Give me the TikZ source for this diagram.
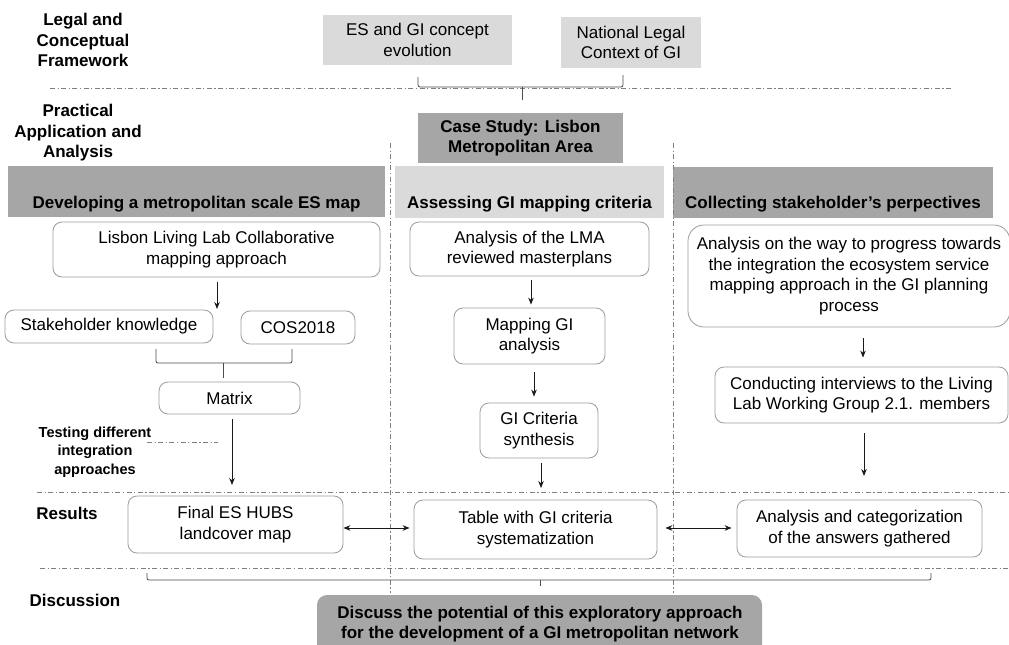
\documentclass[tikz,border=0pt]{standalone}
\usepackage{fontspec}
\setmainfont{Liberation Sans}
\usetikzlibrary{arrows.meta,calc}
\definecolor{dg}{HTML}{A6A6A6}
\definecolor{lg}{HTML}{DADADA}
\definecolor{bd}{HTML}{9C9C9C}
\definecolor{ln}{HTML}{7F7F7F}
\begin{document}
\begin{tikzpicture}[x=1pt,y=-1pt,
 txt/.style={font=\fontsize{17}{20.5}\selectfont, align=center},
 btxt/.style={font=\fontsize{17}{20.5}\selectfont\bfseries, align=center},
 stxt/.style={font=\fontsize{14.5}{18.5}\selectfont\bfseries, align=center},
 rbox/.style={txt, draw=bd, line width=0.8pt, rounded corners=9pt, fill=white, inner sep=0pt},
 gbox/.style={txt, fill=lg, inner sep=0pt},
 dbox/.style={btxt, fill=dg, inner sep=0pt},
 bar/.style={inner sep=0pt},
 dd/.style={draw=ln, line width=0.8pt, dash pattern=on 5pt off 2.5pt on 1.2pt off 2.5pt},
 arr/.style={draw=black!90, line width=0.9pt, -{Stealth[length=7pt,width=5.5pt]}},
 darr/.style={draw=black!90, line width=0.9pt, {Stealth[length=7pt,width=5.5pt]}-{Stealth[length=7pt,width=5.5pt]}},
 brace/.style={draw=black!70, line width=0.8pt, rounded corners=2pt}
]
\useasboundingbox (0,0) rectangle (1009,645);
\fill[white] (0,0) rectangle (1009,645);
\clip (0,0) rectangle (1009,645);

% row labels
\node[btxt] (lab1) at (83,40) {Legal and\\Conceptual\\Framework};
\node[btxt] (lab2) at (78,133) {Practical\\Application and\\Analysis};
\node[btxt] (lab3) at (67,513) {Results};
\node[btxt] (lab4) at (75,600) {Discussion};

% top boxes
\node[gbox, minimum width=189pt, minimum height=50pt] (es) at (417.5,40) {ES and GI concept\\evolution};
\node[gbox, minimum width=140pt, minimum height=51pt] (nat) at (631,42.5) {National Legal\\Context of GI};

% separators
\draw[dd] (50,88) -- (953,88);
\draw[dd] (37,492) -- (1009,492);
\draw[dd] (40,568) -- (1009,568);

% top brace
\coordinate (b1l) at (418,77);
\coordinate (b1r) at (623,75);
\coordinate (b1m) at (522,100);
\draw[brace] (b1l) -- (418,87) -- (623,87) -- (b1r);
\draw[brace] (522,87) -- (b1m);

\node[dbox, minimum width=205pt, minimum height=50pt] (case) at (520.5,138) {Case Study: Lisbon\\Metropolitan Area};

% header bars
\node[bar, fill=dg, minimum width=377pt, minimum height=51pt] (h1) at (196.5,191.5) {};
\node[bar, fill=lg, minimum width=269pt, minimum height=52pt] (h2) at (529.5,192) {};
\node[bar, fill=dg, minimum width=320pt, minimum height=51pt] (h3) at (833,192.5) {};
\node[btxt] (h1t) at (196.5,204) {Developing a metropolitan scale ES map};
\node[btxt] (h2t) at (529.5,204) {Assessing GI mapping criteria};
\node[btxt] (h3t) at (833,204) {Collecting stakeholder’s perpectives};

% vertical separators
\draw[dd] (390,143) -- (390,593);
\draw[dd] (673,143) -- (673,593);

% left column
\node[rbox, minimum width=327pt, minimum height=55pt] (lla) at (216.5,249.5) {Lisbon Living Lab Collaborative\\mapping approach};
\node[rbox, minimum width=208pt, minimum height=33pt] (sk) at (109,326.5) {Stakeholder knowledge};
\node[rbox, minimum width=114pt, minimum height=33pt] (cos) at (298,327.5) {COS2018};
\node[rbox, minimum width=141pt, minimum height=32pt] (mat) at (229.5,398) {Matrix};
\coordinate (a1e) at (217,309);
\draw[arr] (217,282) -- (a1e);
\coordinate (b2m) at (223,378);
\draw[brace] (156,349) -- (156,363) -- (292,363) -- (292,349);
\draw[brace] (223,363) -- (b2m);
\coordinate (a2e) at (232,485);
\draw[arr] (232,419) -- (a2e);
\node[stxt] (test) at (95,452) {Testing different\\integration\\approaches};
\draw[dd] (147,442) -- (218,442);

% middle column
\node[rbox, minimum width=239pt, minimum height=54pt] (lma) at (529.5,249) {Analysis of the LMA\\reviewed masterplans};
\node[rbox, minimum width=151pt, minimum height=56pt] (mgi) at (529.5,336) {Mapping GI\\analysis};
\node[rbox, minimum width=118pt, minimum height=55pt] (gic) at (539,430.5) {GI Criteria\\synthesis};
\draw[arr] ([yshift=-4pt]lma.south -| 531,0) -- ([yshift=3pt]mgi.north -| 531,0);
\draw[arr] ([yshift=-8pt]mgi.south -| 534,0) -- ([yshift=6pt]gic.north -| 534,0);
\coordinate (a3e) at (541,488);
\draw[arr] ([yshift=-5pt]gic.south -| 541,0) -- (a3e);

% right column
\node[rbox, rounded corners=16pt, minimum width=322pt, minimum height=102pt] (aw) at (849,276) {Analysis on the way to progress towards\\the integration the ecosystem service\\mapping approach in the GI planning\\process};
\node[rbox, minimum width=293pt, minimum height=56pt] (ci) at (861.5,395) {Conducting interviews to the Living\\Lab Working Group 2.1. members};
\draw[arr] ([yshift=-11pt]aw.south -| 863,0) -- ([yshift=9pt]ci.north -| 863,0);
\coordinate (a4e) at (864,476);
\draw[arr] ([yshift=-10pt]ci.south -| 864,0) -- (a4e);

% results
\node[rbox, minimum width=215pt, minimum height=57pt] (fin) at (235.5,524.5) {Final ES HUBS\\landcover map};
\node[rbox, minimum width=243pt, minimum height=59pt] (tab) at (535.5,529.5) {Table with GI criteria\\systematization};
\node[rbox, minimum width=245pt, minimum height=57pt] (ana) at (859.5,528.5) {Analysis and categorization\\of the answers gathered};
\draw[darr] (fin.east |- 0,528) -- ([xshift=-4pt]tab.west |- 0,528);
\draw[darr] ([xshift=8pt]tab.east |- 0,528) -- ([xshift=-5pt]ana.west |- 0,528);

% bottom brace
\coordinate (b3m) at (540,586);
\draw[brace] (147,573) -- (147,580) -- (931,580) -- (931,573);
\draw[brace] (540,580) -- (b3m);

% discussion
\node[btxt, fill=dg, rounded corners=10pt, minimum width=445pt, minimum height=62pt, inner sep=0pt, text depth=0pt] (disc) at (539.5,626) {};
\node[btxt] (disct) at (540,624) {Discuss the potential of this exploratory approach\\for the development of a GI metropolitan network};
\end{tikzpicture}
\end{document}
